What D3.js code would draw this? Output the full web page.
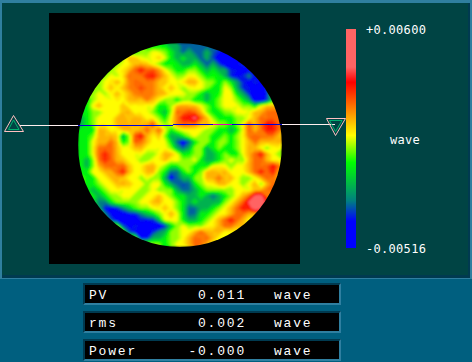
<!DOCTYPE html>
<html>
<head>
<meta charset="utf-8">
<script src="https://cdn.jsdelivr.net/npm/d3@7"></script>
<style>
  html, body { margin: 0; padding: 0; background: #005f7f; }
  svg { display: block; }
  text { fill: #fff; }
</style>
</head>
<body>
<div id="chart"></div>
<script>
// colour range of the map, in wave
const rangeMax = 0.006;
const rangeMin = -0.00516;
const unit = "wave";

const statNames = ["PV", "rms", "Power"];
const statValues = ["0.011", "0.002", "-0.000"];

// colour bar stops, thousandths of a wave
const stopValues = [-5.16, -3.8, -2.75, -0.8, 0.58, 3.29, 4.06, 6];
const stopColors = ["#0000ff", "#0000ff", "#008080", "#00ff00", "#ffff00", "#ff0000", "#ff6464", "#ff6464"];

// surface, thousandths of a wave, 34 x 34 over the aperture
const surface = [
  [0,0,0,0,0,0,0,0,0,0,0,-.9,-.9,-.9,-.9,-1.9,-1.9,-2.9,-2.9,-2.9,-2.9,-2.9,-2.9,-2.9,-2.9,-2.9,-2.9,-2.9,-2.9,-2.9,-2.9,-2.9,-2.9,-2.9],
  [0,0,0,0,0,0,0,0,-.9,-.9,0,0,.7,.5,0,-.9,-1.9,-2.9,-1.9,-2.9,-2.9,-1.9,-3,-3.5,-3.8,-4.2,-4.2,-4,-4,-4,-4,-4,-4,-4],
  [0,0,0,0,0,0,-.9,0,1.5,1.4,.6,.4,.7,1.2,.5,-.9,-1.9,-.9,-1.9,-1.9,-3,-1.9,-3.2,-4.2,-4.4,-4.4,-4.2,-4,-4,-3,-3,-3,-3,-3],
  [0,0,0,0,0,-.9,.1,.6,.8,1.4,1.5,1.3,.6,0,-.9,-.7,-.9,-1.9,-1.9,-.9,-1.9,-3,-1.9,-3.2,-4.2,-4.2,-3.6,-3.4,-3.4,-3,-3,-3,-3,-3],
  [0,0,0,0,-.9,.1,.6,.9,1.5,2.4,3.3,2.4,2.6,1.8,.8,0,-.9,-.8,0,.1,-.9,-1.9,-.9,-1.9,-2,-3.5,-3.6,-3.8,-3.8,-3.4,-1.9,-1.9,-1.9,-1.9],
  [0,0,0,-.9,.1,.7,.3,.9,2.3,2.1,2.2,3,3.2,2.2,1.4,.7,0,.1,.8,.7,0,-.9,-.7,-.9,-1.9,-3.5,-3.8,-3.4,-2.6,-3.6,-3.4,-1.9,-1.9,-1.9],
  [0,0,0,0,.6,.9,1.5,.8,1.9,2.3,2.2,2.2,2,1.4,1.3,.7,.6,.9,1.6,1.5,.7,.1,0,-.9,.1,-.9,-2.2,-3.5,-3.8,-3.4,-3.8,-3.4,-1.9,-1.9],
  [0,0,0,0,.7,1.4,.7,1.3,2,2.2,2.7,2.2,2,1.4,.8,1.3,.7,.1,.6,.8,.7,0,-.8,-.9,.7,.1,-2,-3.4,-3.6,-3.8,-4,-3.4,-.9,-.9],
  [0,0,0,.8,.2,.7,1.5,.8,1.4,2,2.2,2.1,2,1.5,1.4,.7,.8,.6,.1,0,-.9,-1.9,-.9,-.7,.8,.7,-.9,-2,-3.4,-4.2,-4.3,-3.4,-.9,-.9],
  [0,-.9,.1,.7,.8,.6,.9,.7,1.4,1.5,1.3,2,1.4,.7,0,.1,-.9,0,.1,-.9,-.8,-1.9,-.9,0,.8,.7,.1,-.9,-2,-4.2,-4.4,-3.2,-.9,-.9],
  [0,-.9,.8,1.5,.7,.8,.6,1.4,.8,.7,.8,.6,.7,-.9,-.8,.1,1.5,1.6,1.5,1.4,.7,0,-.9,0,.7,.8,.6,0,.1,-.9,.7,1.4,1.5,1.5],
  [-.9,-.8,0,.1,.7,.8,.6,1.4,1.5,.7,.8,.6,0,-.9,-1.7,.1,2.3,2.2,2.6,2.2,1.4,0,-.9,-.8,0,.1,.7,.8,.6,1.4,1.5,2.2,2.3,2.2],
  [-1.9,-.9,0,.7,.8,.6,1.4,1.5,1.3,1.5,1.4,.7,.8,.1,-.9,.7,2,3.2,3.4,4.4,2.4,1.4,.1,-.9,-.8,-.9,0,.1,.7,1.4,2.3,2.2,2.4,2.2],
  [-1.9,-.9,0,.7,.8,.7,1.4,1.5,1.4,1.5,1.4,1.6,2.6,.7,0,.7,2.1,2.4,2.3,2.2,1.4,1.5,.7,.1,0,-.9,0,.7,2.4,1.4,2.2,3.3,3.2,2.3],
  [-.9,-.8,-.9,1.5,1.4,.7,.8,1.4,1.5,1.3,1.5,2.3,1.4,2.3,.7,-.9,0,.7,.8,.7,.6,.1,0,-.9,-.8,-1.9,-.9,.7,2.4,1.4,2.2,3.2,3.3,2.2],
  [-.9,-.8,0,1.5,1.4,1.5,1.3,-1.9,0,2.6,3.4,1.5,.8,1.4,0,-1.9,-1.8,-.9,.1,.7,0,.1,-.9,-.8,0,-.9,.1,.7,2.2,2.3,2.2,2.2,2.1,1.4],
  [-.9,-.8,.7,1.5,1.4,2.2,1.4,-.9,0,2.4,2.2,1.4,.7,.8,.6,-.9,-2.9,-4,-2.9,-.9,0,.1,-.9,0,.1,-.9,0,.7,1.4,2.2,1.4,1.5,1.4,1.5],
  [-.9,-.8,.7,2.2,2.3,2.4,1.4,.7,.8,1.4,1.5,.7,.8,.6,.7,0,-1.9,-2.9,-1.9,.1,0,-1.9,-.9,0,-.9,-.8,0,.7,1.5,1.4,.7,0,.7,.8],
  [-.9,-.8,.7,2.3,3.1,2.3,1.5,.7,.8,.6,.7,.1,0,.7,1.5,1.4,.7,-.9,-.8,0,.1,-1.9,-1.8,-.9,0,-.9,-.8,.7,1.5,2.3,3.3,1.5,.7,0],
  [-.9,-1.9,0,2.2,3,2.4,1.5,1.3,.8,.7,0,.1,.7,.8,1.4,.7,.8,0,.1,.7,-.9,-1.9,-1.8,-.9,0,.7,.1,0,1.4,2.3,2.4,1.4,.7,.8],
  [-.9,-1.9,0,1.5,2.2,2.3,2.2,2.4,1.4,.7,.8,1.4,1.5,.7,0,-.9,-.8,.1,0,-.9,-.8,-.9,.7,.8,.7,0,.7,.8,1.5,2.3,2.2,2.4,3.4,2.2],
  [-.9,-.8,.7,.8,1.4,1.5,2.3,3.2,1.5,.7,.8,1.4,1.5,0,-.9,-2.9,-2.9,-.9,0,-.9,0,1.4,1.5,1.3,1.5,.7,.8,.7,1.4,2.3,3.2,2.3,3.1,1.5],
  [0,-.9,-.8,.7,.8,1.4,1.5,1.3,.7,.8,0,.7,.1,0,-1.9,-4,-2.9,-1.9,-1.8,0,.1,1.4,1.5,2.2,1.4,1.5,.7,0,.1,.7,1.5,2.3,2.2,1.5],
  [0,-.9,-.8,0,.7,.8,1.4,1.5,1.3,.7,.8,0,.7,.8,-.9,-1.9,-2.9,-3.1,-2.9,-.9,0,.7,.8,1.5,1.4,.7,.8,0,.7,1.5,0,1.4,2.3,1.5],
  [0,-.9,-1.9,-.9,0,.7,.8,.6,.7,.8,0,.1,.7,0,.1,0,-1.9,-2.9,-2.8,-1.9,-.9,0,.1,0,.1,0,.7,.8,.6,1.4,1.5,2.2,2.3,1.5],
  [0,0,-.9,-1.9,-.9,0,.1,.7,.8,0,.1,.7,.8,1.4,.7,0,-.9,-.8,-1.9,-1.8,-.9,-1.9,-2.9,-1.9,-.9,0,.7,1.5,2.3,4.2,4.4,2.2,1.5,1.5],
  [0,0,-.9,-2.6,-2.6,-.9,0,.1,0,.1,.7,.8,1.4,1.5,.7,.8,0,-.9,-1.9,-.9,-1.9,-1.8,-1.9,-1.8,0,.7,1.5,2.4,4.2,5,5,3.3,1.5,1.5],
  [0,0,0,-2,-3.6,-3.8,-3.4,-2.4,-1.4,-.4,.1,0,.7,.8,1.4,.7,0,-.9,-2.9,-2.8,-1.9,-1.8,-.9,0,.7,1.4,2.3,3.3,3.2,5,4.2,2.3,1.5,1.5],
  [0,0,0,0,-2.6,-3.6,-3.8,-4,-3.6,-3.5,-2.6,-1.6,-1,0,.7,1.5,.7,-.9,-2.9,-2.8,-.9,-.8,0,.7,.8,1.5,2.3,2.2,1.5,1.4,1.5,1.4,1.5,1.4],
  [0,0,0,0,0,-3,-3.8,-4.4,-4.3,-3.8,-3.5,-3.6,-3.4,-1.8,.7,.8,.7,-.9,-1.9,-1.8,-.9,0,.7,1.5,2.4,3.3,2.3,1.5,.7,.8,.7,.8,.7,.8],
  [0,0,0,0,0,0,0,-3,-3.8,-3.5,-3.8,-3.6,-3.8,-4.4,-3.4,-1.4,0,.7,0,.1,0,.7,.8,1.5,2.3,2.2,1.5,1.4,.7,.8,.7,.8,.7,.8],
  [0,0,0,0,0,0,0,0,-3,-3.6,-3.8,-4.4,-3.4,-2.4,-1.8,0,.1,.7,.8,1.5,2.3,1.5,1.4,1.5,.7,.8,.7,.8,.7,.8,.7,.8,.7,.8],
  [0,0,0,0,0,0,0,0,0,0,-3.6,-3.6,-1.9,-1.8,-.9,0,.1,.7,1.5,2.3,2.2,2.3,1.5,.7,.8,.7,.8,.7,.8,.7,.8,.7,.8,.7],
  [0,0,0,0,0,0,0,0,0,0,0,0,0,0,-.9,0,.7,.8,1.5,2.3,2.2,1.5,.7,.8,.7,.8,.7,.8,.7,.8,.7,.8,.7,.8]
];

const width = 472, height = 362;
const nCols = surface[0].length, nRows = surface.length;
const map = { x: 78, y: 43, size: 204 };
const colorScale = d3.scaleLinear().domain(stopValues).range(stopColors).clamp(true);

const svg = d3.select("#chart").append("svg")
    .attr("width", width)
    .attr("height", height)
;

// panels
svg.append("rect").attr("width", width).attr("height", height).attr("fill", "#005f7f");
svg.append("rect").attr("width", width).attr("height", 279).attr("fill", "#2f7f9f");
svg.append("rect").attr("x", 2).attr("y", 3).attr("width", 468).attr("height", 275).attr("fill", "#003a50");
svg.append("rect").attr("x", 2).attr("y", 3).attr("width", 466).attr("height", 272).attr("fill", "#004444");
svg.append("rect").attr("x", 49).attr("y", 13).attr("width", 251).attr("height", 251).attr("fill", "#000");

// interferogram
const defs = svg.append("defs");
defs.append("clipPath").attr("id", "aperture")
    .append("circle")
    .attr("cx", map.x + map.size / 2)
    .attr("cy", map.y + map.size / 2)
    .attr("r", map.size / 2)
;
defs.append("filter").attr("id", "soften")
    .append("feGaussianBlur")
    .attr("stdDeviation", 1)
;

const contours = d3.contours()
    .size([nCols, nRows])
    .thresholds(d3.range(-6, 7, 0.2))
    (surface.flat())
;

const project = d3.geoPath(d3.geoTransform({
    point(x, y) {
        this.stream.point(map.x + x * map.size / nCols, map.y + y * map.size / nRows);
    }
}));

svg.append("g")
    .attr("clip-path", "url(#aperture)")
    .append("g")
    .attr("filter", "url(#soften)")
    .attr("shape-rendering", "crispEdges")
    .selectAll("path")
    .data(contours)
    .enter()
    .append("path")
    .attr("d", project)
    .attr("fill", d => colorScale(d.value))
;

// profile line and its end markers
const segX1 = [20, 78, 173, 213, 282];
const segX2 = [78, 173, 282, 232, 335];
const segY = [125.5, 125.5, 124.5, 124.5, 124.5];
const segColors = ["#fff0f0", "#0000d8", "#0000d8", "#e000c0", "#fff0f0"];
svg.append("g")
    .selectAll("line")
    .data(segColors)
    .enter()
    .append("line")
    .attr("x1", (d, i) => segX1[i])
    .attr("x2", (d, i) => segX2[i])
    .attr("y1", (d, i) => segY[i])
    .attr("y2", (d, i) => segY[i])
    .attr("stroke", d => d)
;

const markers = [
    { outer: "13.5,115.5 4.5,131.5 23.5,131.5", inner: "13.5,120 8.5,129.5 19,129.5" },
    { outer: "326.5,118.5 345.5,118.5 335.5,135.5", inner: "329.5,120.5 342,120.5 335.5,131.5" }
];
markers.forEach(m => {
    svg.append("polygon").attr("points", m.outer).attr("fill", "none").attr("stroke", "#ffc0c0");
    svg.append("polygon").attr("points", m.inner).attr("fill", "none").attr("stroke", "#00b070");
});

// colour bar
const barY = d3.scaleLinear().domain([rangeMin, rangeMax]).range([248, 29]);
svg.append("g")
    .selectAll("rect")
    .data(d3.range(29, 248))
    .enter()
    .append("rect")
    .attr("x", 346)
    .attr("y", d => d)
    .attr("width", 10)
    .attr("height", 1)
    .attr("fill", d => colorScale(barY.invert(d + 0.5) * 1000))
;

const barAxis = d3.axisRight(barY)
    .tickValues([rangeMax, rangeMin])
    .tickSize(0)
    .tickPadding(0)
    .tickFormat(d => d3.format("+.5f")(d).replace("\u2212", "-"))
;
const barLabels = svg.append("g")
    .attr("transform", "translate(366,1)")
    .call(barAxis)
;
barLabels.select(".domain").remove();
barLabels.selectAll("text")
    .attr("fill", "#fff")
    .style("font-family", "'DejaVu Sans Mono', monospace")
    .style("font-size", "12px")
    .style("letter-spacing", "0.3px")
;

svg.append("text")
    .attr("x", 390)
    .attr("y", 144)
    .style("font-family", "'DejaVu Sans Mono', monospace")
    .style("font-size", "12px")
    .style("letter-spacing", "0.3px")
    .text(unit)
;

// readouts
const rowY = d3.scalePoint().domain(statNames).range([283, 339]);
const rows = svg.append("g")
    .selectAll("g")
    .data(statNames)
    .enter()
    .append("g")
    .attr("transform", d => `translate(83,${rowY(d)})`)
;
rows.append("rect").attr("width", 258).attr("height", 22).attr("fill", "#2f7fa0");
rows.append("path").attr("d", "M0,0H258L256,2H2V20L0,22Z").attr("fill", "#003a50");
rows.append("rect").attr("x", 2).attr("y", 2).attr("width", 254).attr("height", 18).attr("fill", "#000");

const readoutFont = g => g
    .style("font-family", "'Liberation Mono', monospace")
    .style("font-size", "13px")
    .style("letter-spacing", "1.8px")
;
rows.append("text").attr("x", 6).attr("y", 16).text(d => d).call(readoutFont);
rows.append("text").attr("x", 163).attr("y", 16).attr("text-anchor", "end")
    .text((d, i) => statValues[i]).call(readoutFont);
rows.append("text").attr("x", 191).attr("y", 16).text(unit).call(readoutFont);
</script>
</body>
</html>
